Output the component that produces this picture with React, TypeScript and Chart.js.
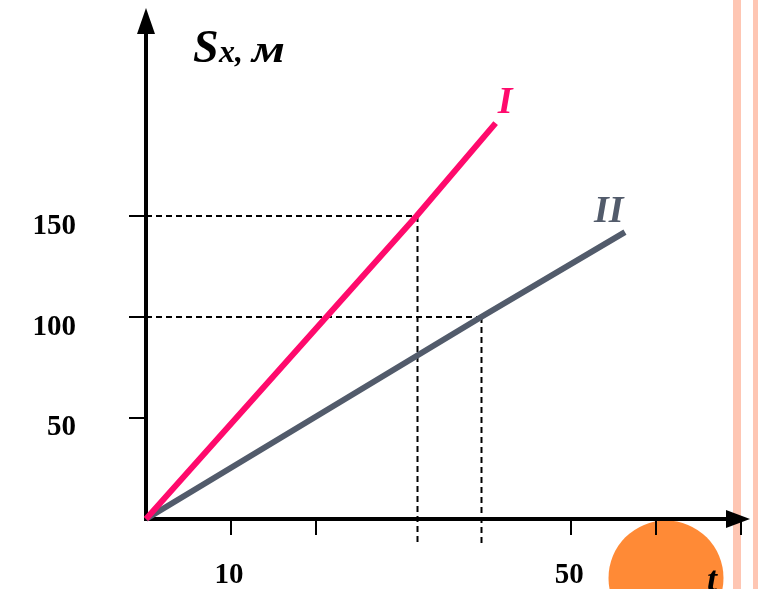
import React, { useEffect, useRef } from "react";
import { Chart, registerables } from "chart.js";

Chart.register(...registerables);

// Distance–time graph for two bodies moving uniformly from the origin.
const T_I = [0, 31.8, 41.1];
const S_I = [0, 150, 196];
const T_II = [0, 39.4, 56.3];
const S_II = [0, 100, 142];

// Guide lines: time at which each body reaches the marked distance.
const GUIDE_T = [31.8, 39.4];
const GUIDE_S = [150, 100];

const X_TICKS = [10, 20, 50, 60, 70];
const X_TICK_LABELS = ["10", "", "50", "", ""];
const Y_TICKS = [50, 100, 150];
const Y_TICK_LABELS = ["50", "100", "150"];

const SERIES_NAMES = ["I", "II"];
const AXIS_X_NAME = "t";

const PINK = "#ff0a6c";
const GREY = "#525b6b";
const ORANGE = "#ff8a36";
const STRIPE = "#fec6b3";

const SERIF = '"Liberation Serif", "Times New Roman", serif';

const sketchPlugin = {
  id: "sketch",
  beforeDraw(chart: any) {
    const { ctx, width, height } = chart;
    ctx.save();
    ctx.fillStyle = "#ffffff";
    ctx.fillRect(0, 0, width, height);
    // slide edge stripes
    ctx.fillStyle = STRIPE;
    ctx.fillRect(733, 0, 8, height);
    ctx.fillRect(753, 0, 8, height);
    // decorative disc
    ctx.fillStyle = ORANGE;
    ctx.beginPath();
    ctx.arc(666, 578, 57.5, 0, Math.PI * 2);
    ctx.fill();
    ctx.restore();
  },
  beforeDatasetsDraw(chart: any) {
    const { ctx, chartArea } = chart;
    const { left, right, top, bottom } = chartArea;
    const xs = chart.scales.x;
    const ys = chart.scales.y;
    ctx.save();

    // dashed guides
    ctx.strokeStyle = "#000";
    ctx.lineWidth = 2;
    ctx.setLineDash([6, 4]);
    GUIDE_T.forEach((t, i) => {
      const px = Math.round(xs.getPixelForValue(t)) + 0.5;
      const py = Math.round(ys.getPixelForValue(GUIDE_S[i]));
      ctx.beginPath();
      ctx.moveTo(left, py);
      ctx.lineTo(px, py);
      ctx.stroke();
      ctx.beginPath();
      ctx.moveTo(px, py);
      ctx.lineTo(px, bottom + 24);
      ctx.stroke();
    });
    ctx.setLineDash([]);

    // ticks
    ctx.lineWidth = 2;
    Y_TICKS.forEach((v) => {
      const py = Math.round(ys.getPixelForValue(v));
      ctx.beginPath();
      ctx.moveTo(left - 17, py);
      ctx.lineTo(left, py);
      ctx.stroke();
    });
    X_TICKS.forEach((v) => {
      const px = Math.round(xs.getPixelForValue(v));
      ctx.beginPath();
      ctx.moveTo(px, bottom);
      ctx.lineTo(px, bottom + 16);
      ctx.stroke();
    });

    // axes with arrows
    ctx.lineWidth = 4;
    ctx.beginPath();
    ctx.moveTo(left, bottom + 2);
    ctx.lineTo(left, top + 24);
    ctx.stroke();
    ctx.beginPath();
    ctx.moveTo(left - 2, bottom);
    ctx.lineTo(right - 22, bottom);
    ctx.stroke();
    ctx.fillStyle = "#000";
    ctx.beginPath();
    ctx.moveTo(left, top);
    ctx.lineTo(left - 9, top + 26);
    ctx.lineTo(left + 9, top + 26);
    ctx.closePath();
    ctx.fill();
    ctx.beginPath();
    ctx.moveTo(right, bottom);
    ctx.lineTo(right - 24, bottom - 9);
    ctx.lineTo(right - 24, bottom + 9);
    ctx.closePath();
    ctx.fill();

    // tick labels
    ctx.font = `bold 29px ${SERIF}`;
    ctx.textBaseline = "middle";
    ctx.textAlign = "right";
    Y_TICKS.forEach((v, i) => {
      const py = ys.getPixelForValue(v);
      ctx.fillText(Y_TICK_LABELS[i], 76, py + 10);
    });
    ctx.textAlign = "center";
    X_TICKS.forEach((v, i) => {
      if (!X_TICK_LABELS[i]) return;
      const px = xs.getPixelForValue(v);
      ctx.fillText(X_TICK_LABELS[i], px - 2, bottom + 57);
    });
    ctx.restore();
  },
  afterDatasetsDraw(chart: any) {
    const { ctx, chartArea } = chart;
    const xs = chart.scales.x;
    const ys = chart.scales.y;
    ctx.save();
    ctx.textBaseline = "alphabetic";
    ctx.textAlign = "left";

    // axis title  S_x, м
    ctx.fillStyle = "#000";
    ctx.font = `bold italic 46px ${SERIF}`;
    ctx.fillText("S", 193, 62);
    ctx.font = `bold italic 32px ${SERIF}`;
    ctx.fillText("x,", 219, 62);
    ctx.save();
    ctx.translate(252, 62);
    ctx.scale(1.3, 1);
    ctx.font = `bold italic 37px ${SERIF}`;
    ctx.fillText("м", 0, 0);
    ctx.restore();

    // series names at line ends
    const ends = [
      { t: T_I[T_I.length - 1], s: S_I[S_I.length - 1], color: PINK, dx: 2 },
      { t: T_II[T_II.length - 1], s: S_II[S_II.length - 1], color: GREY, dx: -31 },
    ];
    ctx.font = `bold italic 38px ${SERIF}`;
    ends.forEach((e, i) => {
      ctx.fillStyle = e.color;
      ctx.fillText(SERIES_NAMES[i], xs.getPixelForValue(e.t) + e.dx, ys.getPixelForValue(e.s) - 10);
    });

    // time axis name
    ctx.fillStyle = "#000";
    ctx.font = `bold italic 36px ${SERIF}`;
    ctx.fillText(AXIS_X_NAME, chartArea.right - 43, 591);
    ctx.restore();
  },
};

export default function App() {
  const canvasRef = useRef<HTMLCanvasElement | null>(null);

  useEffect(() => {
    if (!canvasRef.current) return;
    const chart = new Chart(canvasRef.current, {
      type: "line",
      data: {
        datasets: [
          {
            label: SERIES_NAMES[0],
            data: T_I.map((t, i) => ({ x: t, y: S_I[i] })),
            borderColor: PINK,
            borderWidth: 6,
            borderCapStyle: "butt",
            pointRadius: 0,
            tension: 0,
            clip: false as any,
          },
          {
            label: SERIES_NAMES[1],
            data: T_II.map((t, i) => ({ x: t, y: S_II[i] })),
            borderColor: GREY,
            borderWidth: 6,
            borderCapStyle: "butt",
            pointRadius: 0,
            tension: 0,
            clip: false as any,
          },
        ],
      },
      options: {
        animation: false,
        responsive: true,
        maintainAspectRatio: false,
        layout: { padding: { left: 146, right: 8, top: 8, bottom: 70 } },
        scales: {
          x: { type: "linear", min: 0, max: 71, display: false },
          y: { type: "linear", min: 0, max: 253, display: false },
        },
        plugins: {
          legend: { display: false },
          tooltip: { enabled: false },
        },
        events: [],
      },
      plugins: [sketchPlugin],
    });
    return () => chart.destroy();
  }, []);

  return (
    <div style={{ position: "absolute", left: 0, top: 0, width: 758, height: 589, overflow: "hidden" }}>
      <canvas ref={canvasRef} />
    </div>
  );
}
